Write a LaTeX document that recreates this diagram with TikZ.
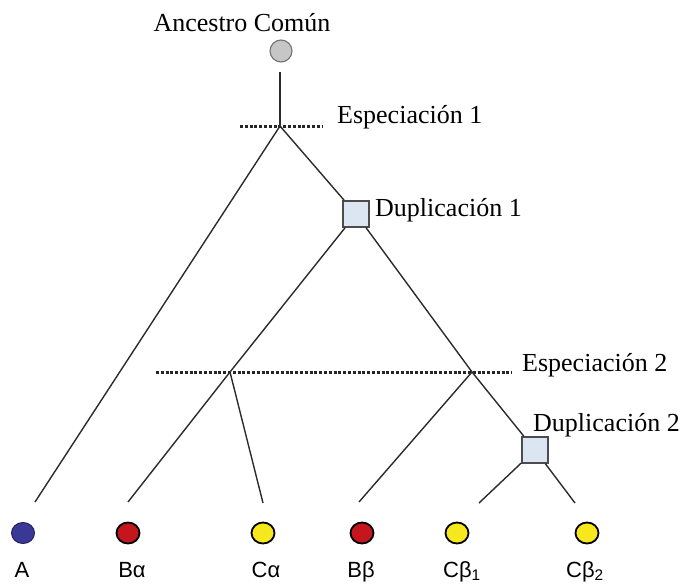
\documentclass[tikz,border=0pt]{standalone}
\usepackage{fontspec}
\setmainfont{Liberation Serif}
\newfontfamily\leaffont{Liberation Sans}
\usetikzlibrary{shapes.geometric}
\definecolor{branch}{HTML}{2B2B2B}
\definecolor{boxfill}{HTML}{DCE6F2}
\definecolor{ancfill}{HTML}{C6C6C6}
\definecolor{blueleaf}{HTML}{3A3896}
\definecolor{redleaf}{HTML}{C4161C}
\definecolor{yellowleaf}{HTML}{F6E81C}
\tikzset{
  branchline/.style={draw=branch, line width=1.4pt},
  specline/.style={draw=black!85, line width=3pt, dash pattern=on 3pt off 1.8pt},
  dupbox/.style={draw=black!70, line width=1.4pt, fill=boxfill, minimum size=26pt, inner sep=0pt},
  ancnode/.style={circle, draw=black!55, line width=1.1pt, fill=ancfill, minimum size=22pt, inner sep=0pt},
  leaf/.style={ellipse, draw=black, line width=1.8pt, minimum width=23pt, minimum height=21pt, inner sep=0pt},
  eventlabel/.style={font=\fontsize{26}{28}\selectfont, inner sep=0pt},
  leaflabel/.style={font=\leaffont\fontsize{22}{24}\selectfont, inner sep=0pt, anchor=base}
}
\begin{document}
\begin{tikzpicture}[x=1pt,y=-1pt]
\useasboundingbox (0,0) rectangle (683,584);

% ancestor and duplication events
\node[ancnode] (anc) at (281,51) {};
\node[dupbox] (d1) at (356,214) {};
\node[dupbox] (d2) at (535,450) {};

% branching points and branch ends
\coordinate (top) at (280,72);
\coordinate (s1) at (280,126);
\coordinate (s2a) at (230,372);
\coordinate (s2b) at (472,372);
\coordinate (eA) at (35,502);
\coordinate (eBa) at (128,502);
\coordinate (eCa) at (263,503);
\coordinate (eBb) at (359,502);
\coordinate (eCb1) at (479,503);
\coordinate (eCb2) at (575,503);

% speciation levels
\coordinate (s1l) at (240,126);
\coordinate (s1r) at (323,126);
\coordinate (s2l) at (156,372);
\coordinate (s2r) at (512,372);
\draw[specline] (s1l) -- (s1r);
\draw[specline] (s2l) -- (s2r);

% tree branches
\draw[branchline] (top) -- (s1);
\draw[branchline] (s1) -- (eA);
\draw[branchline] (s1) -- (d1);
\draw[branchline] (d1) -- (s2a);
\draw[branchline] (s2a) -- (eBa);
\draw[branchline] (s2a) -- (eCa);
\draw[branchline] (d1) -- (s2b);
\draw[branchline] (s2b) -- (eBb);
\draw[branchline] (s2b) -- (d2);
\draw[branchline] (d2) -- (eCb1);
\draw[branchline] (d2) -- (eCb2);

% event labels
\node[eventlabel, anchor=base] (tanc) at (242,31) {Ancestro Común};
\node[eventlabel, anchor=base west] (ts1) at (337,123) {Especiación 1};
\node[eventlabel, anchor=base west] (td1) at (375,216) {Duplicación 1};
\node[eventlabel, anchor=base west] (ts2) at (522,371) {Especiación 2};
\node[eventlabel, anchor=base west] (td2) at (533,431) {Duplicación 2};

% extant genes
\node[leaf, fill=blueleaf, draw=blueleaf!60!black, line width=1pt] (A) at (23,533) {};
\node[leaf, fill=redleaf] (Ba) at (128,533) {};
\node[leaf, fill=yellowleaf] (Ca) at (263,533) {};
\node[leaf, fill=redleaf] (Bb) at (362,533) {};
\node[leaf, fill=yellowleaf] (Cb1) at (457,533) {};
\node[leaf, fill=yellowleaf] (Cb2) at (587,533) {};

\node[leaflabel] (lA) at (22,577) {A};
\node[leaflabel] (lBa) at (132,577) {Bα};
\node[leaflabel] (lCa) at (266,577) {Cα};
\node[leaflabel] (lBb) at (361,577) {Bβ};
\node[leaflabel] (lCb1) at (462,577) {Cβ\textsubscript{1}};
\node[leaflabel] (lCb2) at (585,577) {Cβ\textsubscript{2}};
\end{tikzpicture}
\end{document}
